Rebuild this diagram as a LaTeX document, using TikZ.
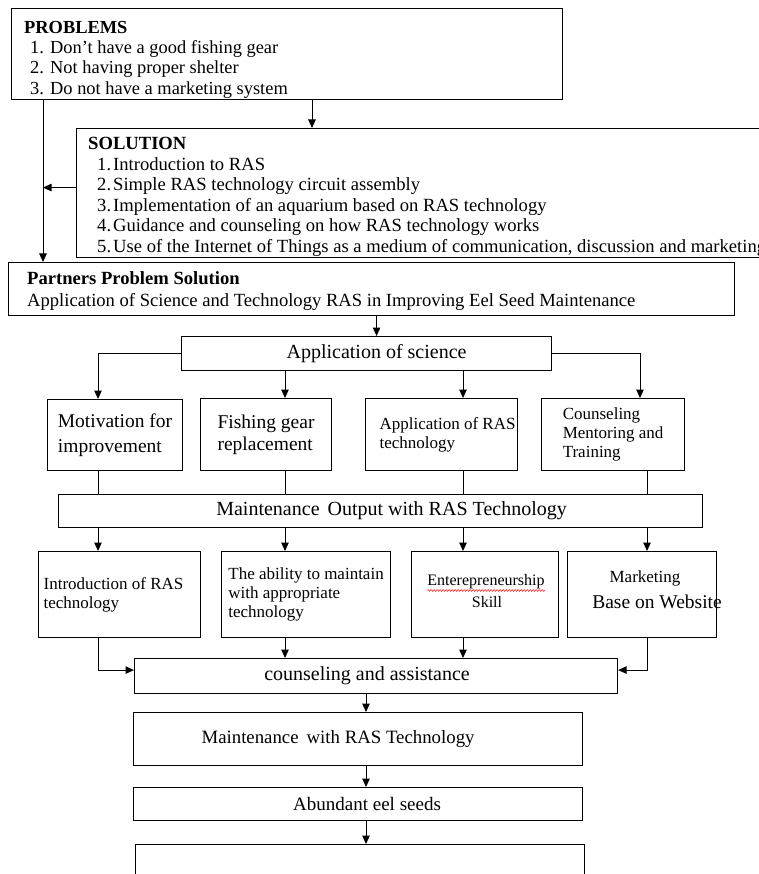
\documentclass[tikz,border=0pt]{standalone}
\usepackage{fontspec}
\setmainfont{Liberation Serif}
\usetikzlibrary{arrows.meta,decorations.pathmorphing}
\begin{document}
\begin{tikzpicture}[x=1pt,y=-1pt,
  box/.style={draw,line width=1.1pt,inner sep=0pt,anchor=north west},
  txt/.style={anchor=north west,inner sep=0pt,align=left,font=\fontsize{18.4}{20.3}\selectfont},
  big/.style={font=\fontsize{20}{24}\selectfont},
  mid/.style={align=left,font=\fontsize{19.5}{24.5}\selectfont},
  small/.style={align=left,font=\fontsize{17}{19}\selectfont},
  arr/.style={line width=1pt,-{Triangle[width=7.5pt,length=8.5pt]}},
  ln/.style={line width=1pt},
  spell/.style={red,line width=0.5pt,decorate,decoration={snake,amplitude=0.9pt,segment length=3pt}}]
\useasboundingbox (0,0) rectangle (759,874);
\clip (0,0) rectangle (759,874);
\def\bx#1#2#3#4#5{\node[box,minimum width=#4-#2,minimum height=#5-#3] (#1) at (#2,#3)}
% top part
\bx{prob}{11}{8}{562}{99} {};
\node[txt] (probtxt) at (24,21) {\textbf{PROBLEMS}\\
  \hspace*{6pt}\makebox[20pt][l]{1.}Don't have a good fishing gear\\
  \hspace*{6pt}\makebox[20pt][l]{2.}Not having proper shelter\\
  \hspace*{6pt}\makebox[20pt][l]{3.}Do not have a marketing system};
\bx{sol}{76}{128}{800}{257} {};
\node[txt,font=\fontsize{18.6}{20.6}\selectfont] (soltxt) at (88,137) {\textbf{SOLUTION}\\
  \hspace*{9pt}\makebox[16pt][l]{1.}Introduction to RAS\\
  \hspace*{9pt}\makebox[16pt][l]{2.}Simple RAS technology circuit assembly\\
  \hspace*{9pt}\makebox[16pt][l]{3.}Implementation of an aquarium based on RAS technology\\
  \hspace*{9pt}\makebox[16pt][l]{4.}Guidance and counseling on how RAS technology works\\
  \hspace*{9pt}\makebox[16pt][l]{5.}Use of the Internet of Things as a medium of communication, discussion and marketing};
\bx{part}{8}{262}{734}{315} {};
\node[txt,font=\fontsize{18.6}{22}\selectfont] (parttxt) at (27,271) {\textbf{Partners Problem Solution}\\
  Application of Science and Technology RAS in Improving Eel Seed Maintenance};
\coordinate (vl) at ([xshift=32pt]prob.south west);
\draw[arr] (vl) -- (vl |- part.north);
\draw[arr] ([xshift=301pt]prob.south west) -- ([xshift=301pt]prob.south west |- sol.north);
\draw[arr] ([yshift=5.5pt]sol.west) -- ([yshift=5.5pt]sol.west -| vl);
% middle part
\bx{app}{181}{336}{551}{370} [big] {\hspace*{20pt}Application of science};
\draw[arr] ([xshift=5pt]part.south) -- ([xshift=5pt]part.south |- app.north);
\coordinate (c1) at (98,0);
\coordinate (c2) at (285,0);
\coordinate (c3) at (463,0);
\coordinate (c4) at (640,0);
\coordinate (c5) at (647,0);
\coordinate (c6) at (366,0);
\bx{m1}{47}{399}{182}{470} [mid] {Motivation for\\improvement};
\bx{m2}{200}{398}{331}{470} [mid,font=\fontsize{19.5}{22}\selectfont] {Fishing gear\\replacement};
\bx{m3}{365}{398}{517}{470} [small] {\hspace*{12pt}Application of RAS\\\hspace*{12pt}technology};
\bx{m4}{541}{398}{684}{470} [small] {Counseling\\Mentoring and\\Training};
\draw[arr] (app.west) -| (m1.north -| c1);
\foreach \i in {2,3} \draw[arr] (app.south -| c\i) -- (m\i.north -| c\i);
\draw[arr] (app.east) -| (m4.north -| c4);
\bx{mo}{58}{494}{702}{527} [big] {\hspace*{22pt}Maintenance\hspace{8pt}Output with RAS Technology};
\foreach \i/\c in {1/c1,2/c2,3/c3,4/c5} \draw[ln] (m\i.south -| \c) -- (mo.north -| \c);
% lower part
\bx{l1}{38}{551}{200}{637} [small] {Introduction of RAS\hspace*{12pt}\\technology};
\bx{l2}{221}{551}{390}{637} [small] {The ability to maintain\\with appropriate\\technology};
\bx{l3}{411}{551}{558}{637} {};
\node[small,inner sep=0pt,font=\fontsize{16}{19}\selectfont] (l3a) at (486,582) {Enterepreneurship};
\node[small,inner sep=0pt,font=\fontsize{16}{19}\selectfont] (l3b) at (487,602) {Skill};
\draw[spell] ([yshift=-1pt]l3a.south west) -- ([yshift=-1pt]l3a.south east);
\bx{l4}{567}{551}{716}{637} {};
\node[small,inner sep=0pt] (l4a) at (645,578) {Marketing};
\node[small,inner sep=0pt,font=\fontsize{19.5}{22}\selectfont] (l4b) at (657,602) {Base on Website};
\foreach \i/\c in {1/c1,2/c2,3/c3,4/c5} \draw[arr] (mo.south -| \c) -- (l\i.north -| \c);
\bx{ca}{134}{658}{617}{693} [big] {counseling and assistance\hspace*{18pt}};
\draw[arr] (l1.south -| c1) |- ([yshift=6pt]ca.west);
\foreach \i in {2,3} \draw[arr] (l\i.south -| c\i) -- (ca.north -| c\i);
\draw[arr] (l4.south -| c5) |- ([yshift=6pt]ca.east);
\bx{mw}{133}{712}{582}{765} [big,font=\fontsize{18.8}{23}\selectfont] {Maintenance\hspace{8pt}with RAS Technology\hspace*{40pt}};
\bx{ab}{133}{787}{582}{820} [big,font=\fontsize{19}{23}\selectfont] {\hspace*{18pt}Abundant eel seeds};
\bx{last}{135}{844}{584}{900} {};
\draw[arr] (ca.south -| c6) -- (mw.north -| c6);
\draw[arr] (mw.south -| c6) -- (ab.north -| c6);
\draw[arr] (ab.south -| c6) -- (last.north -| c6);
\end{tikzpicture}
\end{document}
